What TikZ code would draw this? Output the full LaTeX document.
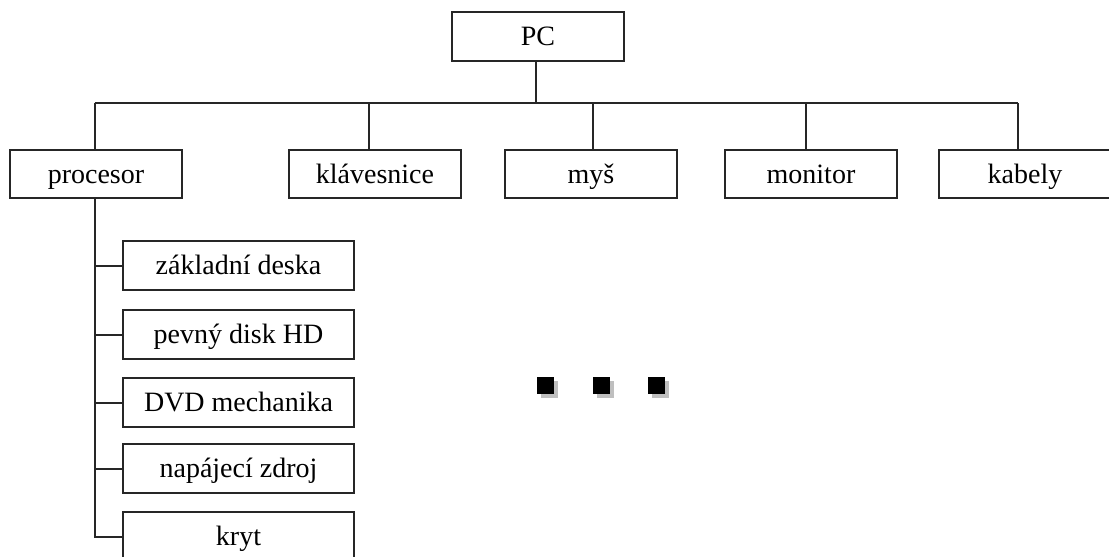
\documentclass[tikz,border=0pt]{standalone}
\usepackage{fontspec}
\setmainfont{Liberation Serif}
\tikzset{
  line/.style={draw=black!85, line width=2pt},
  boxtext/.style={font=\fontsize{28}{32}\selectfont, text height=19pt, text depth=1pt},
  topbox/.style={line, rectangle, inner sep=0pt, minimum width=172pt, minimum height=48pt, boxtext},
  subbox/.style={line, rectangle, inner sep=0pt, minimum width=231pt, minimum height=49pt, boxtext},
  dotsq/.style={fill=black, minimum size=17pt, inner sep=0pt, rectangle},
  dotsh/.style={fill=black!25, minimum size=17pt, inner sep=0pt, rectangle}
}
\begin{document}
\begin{tikzpicture}[x=1pt, y=-1pt]
\useasboundingbox (0,0) rectangle (1109,557);
% top
\node[topbox, minimum height=49pt] (pc) at (538,36.5) {PC};
% second row
\node[topbox] (proc) at (96,174) {procesor};
\node[topbox] (klav) at (375,174) {klávesnice};
\node[topbox] (mys) at (591,174) {myš};
\node[topbox] (mon) at (811,174) {monitor};
\node[topbox] (kab) at (1025,174) {kabely};
% bar
\coordinate (barL) at (94.5,103);
\coordinate (barR) at (1018,103);
\coordinate (pcstem) at (536,103);
\draw[line] (barL) -- (barR);
\draw[line] ([xshift=-2pt]pc.south) -- (pcstem);
\draw[line] (barL) -- ([xshift=-1.5pt]proc.north);
\draw[line] ([xshift=-6pt]klav.north |- barL) -- ([xshift=-6pt]klav.north);
\draw[line] ([xshift=2pt]mys.north |- barL) -- ([xshift=2pt]mys.north);
\draw[line] ([xshift=-5pt]mon.north |- barL) -- ([xshift=-5pt]mon.north);
\draw[line] (barR) -- ([xshift=-7pt]kab.north);
% sub boxes
\node[subbox] (zd) at (238.5,265.5) {základní deska};
\node[subbox] (hd) at (238.5,334.5) {pevný disk HD};
\node[subbox] (dvd) at (238.5,402.5) {DVD mechanika};
\node[subbox] (nz) at (238.5,468.5) {napájecí zdroj};
\node[subbox] (kr) at (238.5,536.5) {kryt};
\coordinate (stemB) at ([xshift=-1.5pt]proc.south |- kr.west);
\draw[line] ([xshift=-1.5pt]proc.south) -- (stemB) -- (kr.west);
\foreach \n in {zd,hd,dvd,nz}{
  \draw[line] (stemB |- \n.west) -- (\n.west);
}
% dots
\foreach \x/\nm in {545.5/d1, 601.5/d2, 656.5/d3}{
  \node[dotsh] at (\x+3.5,389.5) {};
  \node[dotsq] (\nm) at (\x,385.5) {};
}
\end{tikzpicture}
\end{document}
